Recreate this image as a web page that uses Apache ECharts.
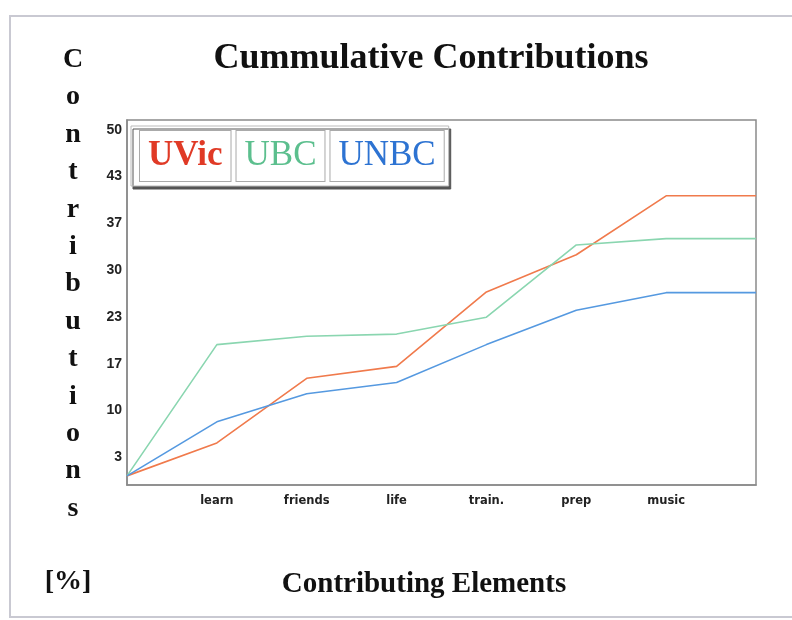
<!DOCTYPE html>
<html>
<head>
<meta charset="utf-8">
<script src="https://cdn.jsdelivr.net/npm/echarts@6/dist/echarts.min.js"></script>
<style>html,body{margin:0;padding:0;background:#fff;}#c{width:792px;height:620px;}</style>
</head>
<body>
<div id="c"></div>
<script>
const categories = ['', 'learn', 'friends', 'life', 'train.', 'prep', 'music', ''];
const uvic = [0.7, 5.4, 14.6, 16.3, 26.9, 32.2, 40.6, 40.6];
const ubc  = [0.7, 19.4, 20.6, 20.9, 23.3, 33.6, 34.5, 34.5];
const unbc = [0.7, 8.4, 12.4, 14.0, 19.4, 24.3, 26.8, 26.8];
const yTickValues = [10/3, 10, 50/3, 70/3, 30, 110/3, 130/3, 50];
const seriesNames = ['UVic', 'UBC', 'UNBC'];

const serif = '"Liberation Serif", "Times New Roman", serif';
const chart = echarts.init(document.getElementById('c'), null, {renderer: 'canvas'});
const lineColors = ['#f07a4c', '#8ad6b0', '#5599e0'];
const textColors = ['#e03a26', '#5cbf8e', '#2d73d2'];

chart.setOption({
  backgroundColor: '#fff',
  animation: false,
  graphic: [{
    type: 'rect', shape: {x: 10, y: 16, width: 790, height: 601},
    style: {fill: 'none', stroke: '#c9c9d2', lineWidth: 2}, silent: true, z: -1
  }],
  title: [
    {text: 'Cummulative Contributions', left: 426, top: 36, textAlign: 'center',
     textStyle: {fontFamily: serif, fontWeight: 'bold', fontSize: 36, color: '#111'}},
    {text: 'C\no\nn\nt\nr\ni\nb\nu\nt\ni\no\nn\ns', left: 68, top: 36, textAlign: 'center',
     textStyle: {fontFamily: serif, fontWeight: 'bold', fontSize: 28, lineHeight: 37.4, color: '#111'}},
    {text: '[%]', left: 63, top: 563, textAlign: 'center',
     textStyle: {fontFamily: serif, fontWeight: 'bold', fontSize: 28, color: '#111'}},
    {text: 'Contributing Elements', left: 419, top: 565, textAlign: 'center',
     textStyle: {fontFamily: serif, fontWeight: 'bold', fontSize: 29, color: '#111'}}
  ],
  legend: {
    left: 131, top: 126, orient: 'horizontal',
    icon: 'none', itemWidth: 0, itemHeight: 0, itemGap: 0,
    padding: 4,
    backgroundColor: '#fff', borderColor: '#bbb', borderWidth: 1,
    shadowColor: '#555', shadowOffsetX: 2, shadowOffsetY: 3, shadowBlur: 0,
    textStyle: {fontFamily: serif, fontSize: 35, lineHeight: 36, padding: [7, 8],
      borderColor: '#aaa', borderWidth: 1, backgroundColor: '#fff'},
    data: seriesNames.map((n, i) => ({name: n, textStyle: {color: textColors[i], fontWeight: i === 0 ? 'bold' : 'normal'}}))
  },
  grid: {left: 127, top: 120, right: 36, bottom: 135, show: true, borderColor: '#8a8a8a', borderWidth: 1.5, backgroundColor: 'transparent'},
  xAxis: {
    type: 'category', data: categories, boundaryGap: false,
    axisLine: {onZero: false, lineStyle: {color: '#8a8a8a', width: 1.5}},
    axisTick: {show: false}, splitLine: {show: false},
    axisLabel: {interval: 0, margin: 10, fontFamily: '"DejaVu Sans", sans-serif', fontWeight: 'bold', fontSize: 11.5, color: '#222'}
  },
  yAxis: {
    type: 'value', min: -0.6, max: 51.4,
    axisLine: {show: true, lineStyle: {color: '#8a8a8a', width: 1.5}},
    axisTick: {show: false}, splitLine: {show: false},
    axisLabel: {customValues: yTickValues, margin: 5, formatter: v => String(Math.round(v)),
      fontFamily: '"Liberation Sans", Arial, sans-serif', fontWeight: 'bold', fontSize: 14, color: '#222'}
  },
  series: [uvic, ubc, unbc].map((d, i) => ({
    name: seriesNames[i], type: 'line', data: d, symbol: 'none',
    lineStyle: {color: lineColors[i], width: 1.6}, itemStyle: {color: lineColors[i]}
  }))
});
</script>
</body>
</html>
